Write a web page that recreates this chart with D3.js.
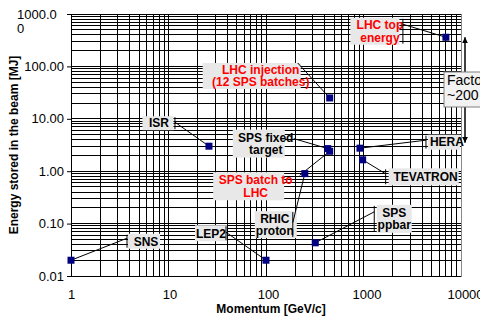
<!DOCTYPE html>
<html>
<head>
<meta charset="utf-8">
<script src="https://cdn.jsdelivr.net/npm/d3@7"></script>
<style>
  body { margin: 0; background: #fff; }
  text { font-family: "Liberation Sans", Arial, sans-serif; }
</style>
</head>
<body>
<svg id="chart" width="480" height="321"></svg>
<script>
// machines and their stored beam energy
const machines = ["SNS", "ISR", "LEP2", "RHIC proton", "SPS ppbar", "SPS fixed target",
  "SPS batch to LHC", "HERA", "TEVATRON", "LHC injection", "LHC top energy"];
const momentum = [1, 26, 100, 250, 320, 430, 450, 920, 980, 450, 7000];   // GeV/c
const energy = [0.02, 3.0, 0.02, 0.9, 0.043, 2.7, 2.4, 2.75, 1.65, 25, 360]; // MJ
const labelLines = [["SNS"], ["ISR"], ["LEP2"], ["RHIC", "proton"], ["SPS", "ppbar"],
  ["SPS fixed", "target"], ["SPS batch to", "LHC"], ["HERA"], ["TEVATRON"],
  ["LHC injection", "(12 SPS batches)"], ["LHC top", "energy"]];
const labelRed = [false, false, false, false, false, false, true, false, false, true, true];

const yTickValues = [0.01, 0.1, 1, 10, 100, 1000];
const yTickLabels = ["0.01", "0.10", "1.00", "10.00", "100.00", "1000.00"];
const xTickValues = [1, 10, 100, 1000, 10000];
const xTickLabels = ["1", "10", "100", "1000", "10000"];

const factorText = ["Factor", "~200"];
const factorSpan = [360, 3.5];

// label placement, offsets from the point (text centre, box, leader end)
const labelLayout = [
  {tx: 75, ty: -19, bw: 32, bh: 15, bdx: -2, lx: 56, ly: -22, cap: true},
  {tx: -50, ty: -23, bw: 31, bh: 14, bdx: -1, lx: -34, ly: -24, cap: true},
  {tx: -55, ty: -27, bw: 32, bh: 16, bdx: 0, lx: -40, ly: -28, cap: true},
  {tx: -30, ty: 51, bw: 42, bh: 27, bdx: 1, lx: -12, ly: 49, cap: true},
  {tx: 79, ty: -24, bw: 35, bh: 28, bdx: 0, lx: 59, ly: -31, cap: true},
  {tx: -62, ty: -5, bw: 52, bh: 28, bdx: -7, lx: -34, ly: -10, cap: false},
  {tx: -74, ty: 35, bw: 71, bh: 28, bdx: -7, lx: -30, ly: 24, cap: false},
  {tx: 87, ty: -6, bw: 32, bh: 15, bdx: -3, lx: 66, ly: -8, cap: true},
  {tx: 63, ty: 17, bw: 70, bh: 17, bdx: -2, lx: 23, ly: 14, cap: true},
  {tx: -69, ty: -22, bw: 98, bh: 26, bdx: -9, lx: -32, ly: -35, cap: false},
  {tx: -66, ty: -6, bw: 49, bh: 27, bdx: -5, lx: -43, ly: -13, cap: true}
];

const svg = d3.select("#chart");
const margin = {top: 14, right: 19, bottom: 45, left: 71};
const width = 480 - margin.left - margin.right;
const height = 321 - margin.top - margin.bottom;

const x = d3.scaleLog().domain([1, 10000]).range([margin.left, margin.left + width]);
const y = d3.scaleLog().domain([0.01, 1000]).range([margin.top + height, margin.top]);

// grid
const grid = svg.append("g").attr("shape-rendering", "crispEdges").attr("stroke", "#000");
grid.selectAll(".hg").data(y.ticks())
  .enter().append("line")
    .attr("x1", margin.left).attr("x2", margin.left + width)
    .attr("y1", d => y(d)).attr("y2", d => y(d));
grid.selectAll(".vg").data(x.ticks())
  .enter().append("line")
    .attr("x1", d => x(d)).attr("x2", d => x(d))
    .attr("y1", margin.top).attr("y2", margin.top + height)
    .attr("stroke", d => d === 10000 ? "#888" : "#000");

// axes
const yAxis = svg.append("g")
  .attr("transform", `translate(${margin.left},0)`)
  .call(d3.axisLeft(y).tickValues(yTickValues).tickSize(4).tickSizeOuter(0).tickPadding(3)
    .tickFormat((d, i) => yTickLabels[i]));
yAxis.selectAll("text").attr("font-size", 13).attr("fill", "#000").attr("font-family", null);
yAxis.selectAll("line, path").attr("stroke", "#000");
yAxis.attr("font-family", null);
// Excel wraps the widest label
yAxis.selectAll("text").each(function() {
  const t = d3.select(this);
  const w = this.getComputedTextLength();
  if (w > 44) {
    const s = t.text();
    t.text(null).attr("text-anchor", "start").attr("x", -7 - w);
    t.append("tspan").attr("x", -7 - w).text(s.slice(0, -1));
    t.append("tspan").attr("x", -7 - w).attr("dy", 14).text(s.slice(-1));
  }
});

const xAxis = svg.append("g")
  .attr("transform", `translate(0,${margin.top + height})`)
  .call(d3.axisBottom(x).tickValues(xTickValues).tickSize(0).tickSizeOuter(0).tickPadding(14)
    .tickFormat((d, i) => xTickLabels[i]));
xAxis.attr("font-family", null);
xAxis.selectAll("text").attr("font-size", 13).attr("fill", "#000")
  .attr("dx", (d, i) => i);
xAxis.selectAll("path").attr("stroke", "#000");

// top border
svg.append("line").attr("shape-rendering", "crispEdges").attr("stroke", "#000")
  .attr("x1", margin.left).attr("x2", margin.left + width)
  .attr("y1", margin.top).attr("y2", margin.top);

// titles
svg.append("text")
  .attr("x", 271).attr("y", 313)
  .attr("text-anchor", "middle").attr("font-size", 12).attr("font-weight", "bold")
  .text("Momentum [GeV/c]");
svg.append("text")
  .attr("transform", "translate(18,145) rotate(-90)")
  .attr("text-anchor", "middle").attr("font-size", 12).attr("font-weight", "bold")
  .text("Energy stored in the beam [MJ]");

// labels
const pts = machines.map((m, i) => ({
  name: m, px: x(momentum[i]), py: y(energy[i]),
  lines: labelLines[i], red: labelRed[i], lay: labelLayout[i]
}));

const lab = svg.append("g").selectAll("g").data(pts).enter().append("g");
lab.append("rect")
  .attr("x", d => d.px + d.lay.tx + d.lay.bdx - d.lay.bw / 2)
  .attr("y", d => d.py + d.lay.ty - d.lay.bh / 2)
  .attr("width", d => d.lay.bw).attr("height", d => d.lay.bh)
  .attr("fill", "#e8e8e8");
lab.each(function(d) {
  const g = d3.select(this);
  const n = d.lines.length;
  d.lines.forEach((s, k) => {
    g.append("text")
      .attr("x", d.px + d.lay.tx)
      .attr("y", d.py + d.lay.ty + (k - (n - 1) / 2) * 12.5 + 4.3)
      .attr("text-anchor", "middle").attr("font-size", 12).attr("font-weight", "bold")
      .attr("fill", d.red ? "#ff0000" : "#000")
      .text(s);
  });
});
lab.append("line")
  .attr("x1", d => d.px).attr("y1", d => d.py)
  .attr("x2", d => d.px + d.lay.lx).attr("y2", d => d.py + d.lay.ly)
  .attr("stroke", "#000").attr("stroke-width", 1);
lab.filter(d => d.lay.cap).append("line")
  .attr("x1", d => d.px + d.lay.lx).attr("x2", d => d.px + d.lay.lx)
  .attr("y1", d => d.py + d.lay.ty - d.lay.bh / 2 + 1)
  .attr("y2", d => d.py + d.lay.ty + d.lay.bh / 2 - 1)
  .attr("stroke", "#000").attr("stroke-width", 1);

// points
svg.append("g").selectAll("rect").data(pts).enter().append("rect")
  .attr("x", d => d.px - 3.5).attr("y", d => d.py - 3.5)
  .attr("width", 7).attr("height", 7)
  .attr("fill", "#000080");

// factor arrow
const defs = svg.append("defs");
defs.append("marker").attr("id", "ah")
  .attr("viewBox", "0 0 10 10").attr("refX", 10).attr("refY", 5)
  .attr("markerWidth", 6).attr("markerHeight", 6).attr("orient", "auto-start-reverse")
  .attr("markerUnits", "userSpaceOnUse")
  .append("path").attr("d", "M0,0L10,5L0,10z").attr("fill", "#000");
const ax = margin.left + width + 4;
svg.append("line")
  .attr("x1", ax).attr("x2", ax)
  .attr("y1", y(factorSpan[0])).attr("y2", y(factorSpan[1]))
  .attr("stroke", "#000").attr("stroke-width", 1.5)
  .attr("marker-start", "url(#ah)").attr("marker-end", "url(#ah)");
svg.append("rect")
  .attr("x", ax - 21).attr("y", 72).attr("width", 60).attr("height", 35)
  .attr("fill", "#f2f2f2").attr("stroke", "#808080");
svg.selectAll(".ft").data(factorText).enter().append("text")
  .attr("x", ax - 18).attr("y", (d, i) => 85 + i * 15)
  .attr("font-size", 14).attr("fill", "#000")
  .text(d => d);
</script>
</body>
</html>
